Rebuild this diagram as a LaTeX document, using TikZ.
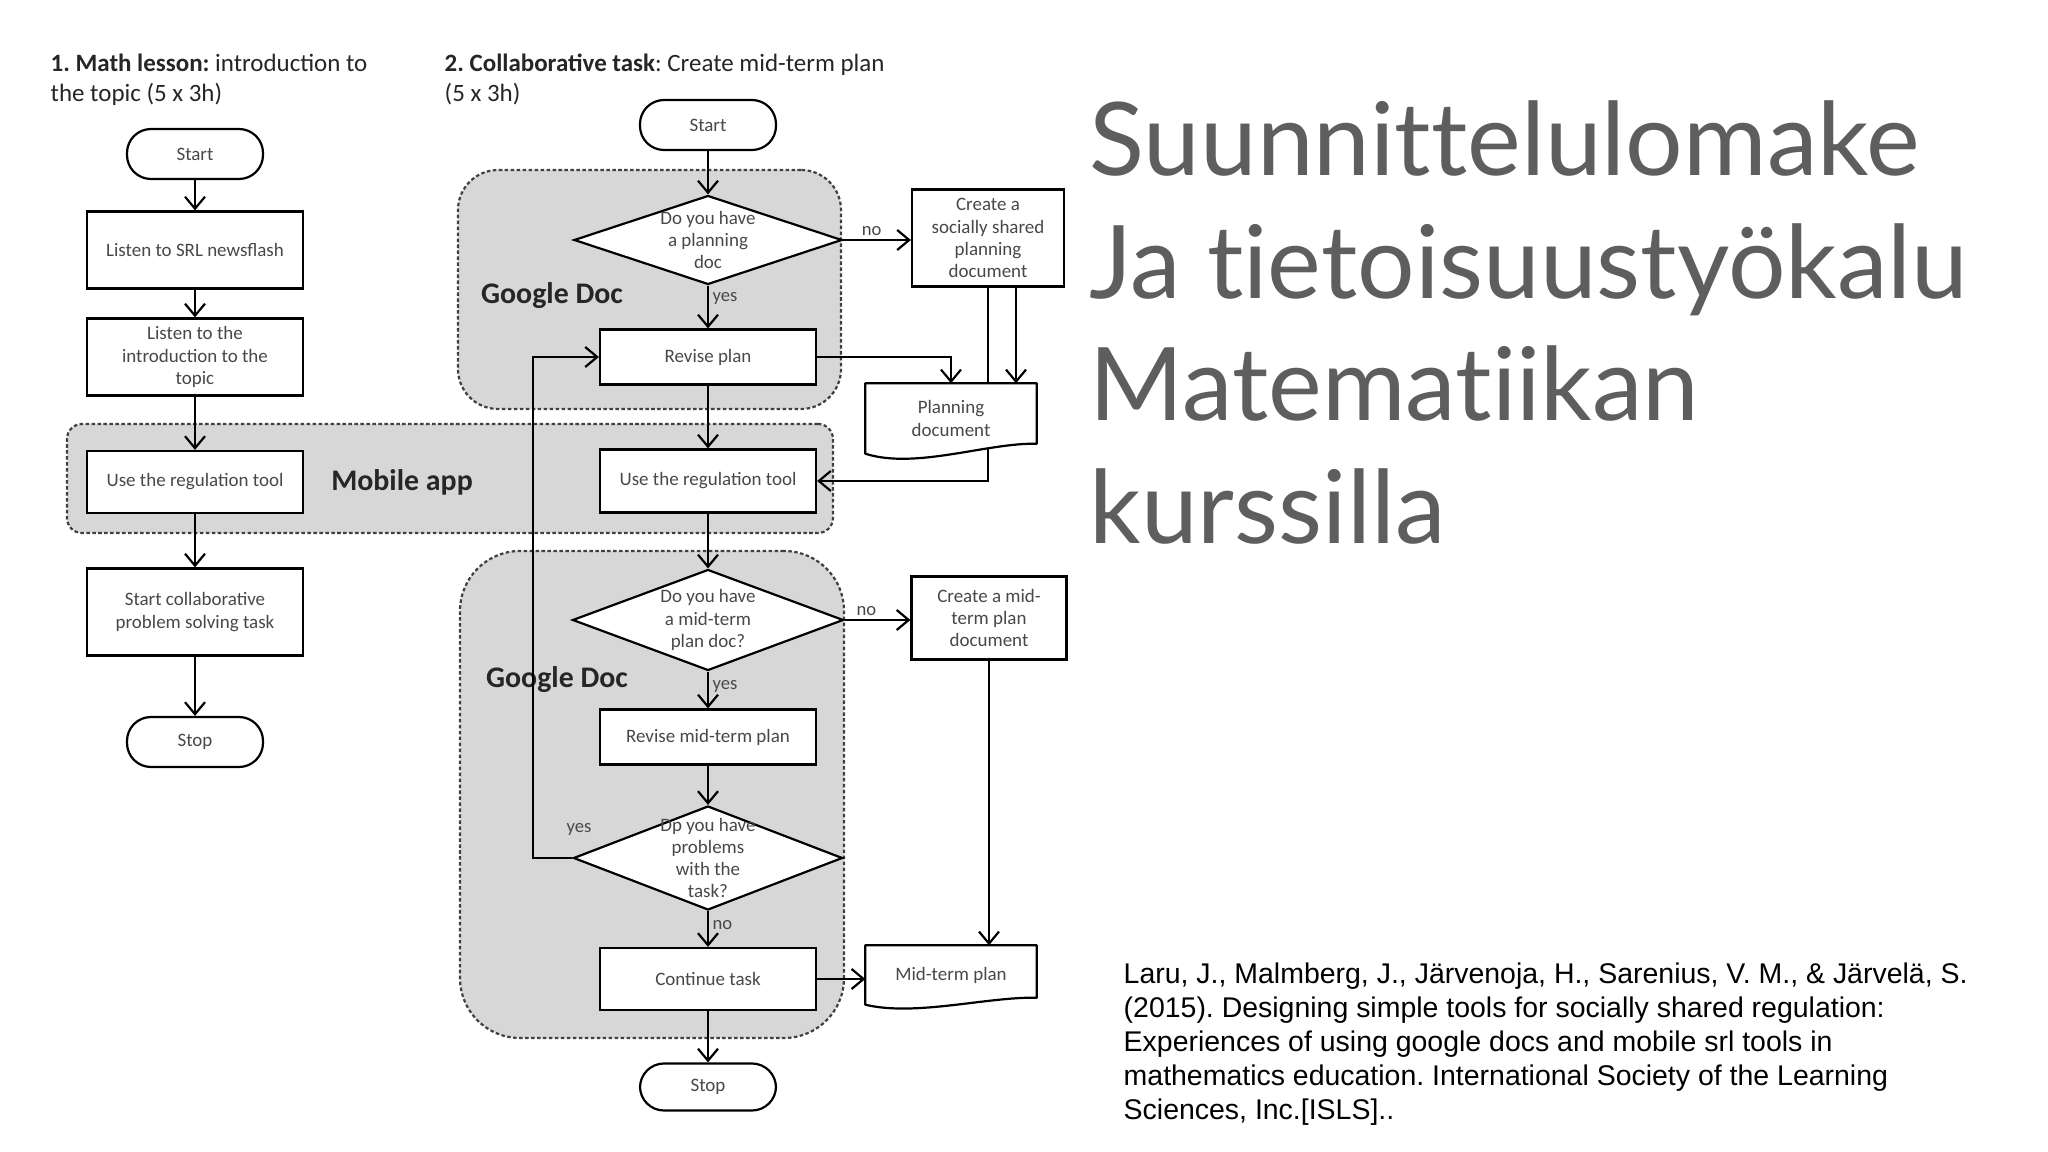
\documentclass[tikz,border=0pt]{standalone}
\usepackage{fontspec}
\setmainfont{Carlito}
\newfontfamily\headfont[Ligatures=NoCommon]{Lato}
\newfontfamily\citefont{Liberation Sans}
\usetikzlibrary{shapes.geometric,arrows.meta,calc}
\definecolor{bandgray}{RGB}{215,215,215}
\definecolor{headgray}{RGB}{94,94,94}
\definecolor{boxtext}{RGB}{72,72,72}
\frenchspacing

\begin{document}
\begin{tikzpicture}
  \tikzstyle{band} = [rectangle, draw=black!75, fill=bandgray, dash pattern=on 1pt off 0.7pt, line width=0.22mm]
  \tikzstyle{block} = [rectangle, draw, fill=white, line width=0.22mm, minimum width=21.6mm, text=boxtext, font=\fontsize{5.4}{6.3}\selectfont, align=center, inner sep=1pt]
  \tikzstyle{terminal} = [rectangle, rounded corners=2.4mm, draw, fill=white, line width=0.22mm, minimum width=13.6mm, minimum height=5mm, text=boxtext, font=\fontsize{5.4}{6.3}\selectfont]
  \tikzstyle{decision} = [diamond, draw, fill=white, line width=0.22mm, inner sep=0pt]
  \tikzstyle{qtext} = [text=boxtext, font=\fontsize{5.4}{6.3}\selectfont, align=center, inner sep=0pt]
  \tikzstyle{doc} = [rectangle, minimum width=17mm, text=boxtext, font=\fontsize{5.4}{6.3}\selectfont, align=center]
  \tikzstyle{docline} = [line width=0.22mm, line join=round]
  \tikzstyle{tag} = [text=boxtext, font=\fontsize{5.3}{6}\selectfont, inner sep=1pt]
  \tikzstyle{area} = [font=\bfseries\fontsize{8.5}{10}\selectfont, text=black!85]
  \tikzstyle{heading} = [font=\fontsize{7.1}{8.5}\selectfont, text=black!85, align=left, inner sep=0pt, anchor=north west]
  \tikzstyle{arrow} = [-{Straight Barb[length=1.2mm, width=2mm]}, line width=0.22mm]
  \tikzstyle{line} = [-, line width=0.22mm]

  \path[fill=white, use as bounding box] (0,0) rectangle (20.48,-11.52);

  % grey areas
  \node[band, rounded corners=4mm, minimum width=38.3mm, minimum height=23.9mm] at (6.495,-2.895) (gdocA) {};
  \node[band, rounded corners=1.5mm, minimum width=76.6mm, minimum height=10.9mm] at (4.50,-4.785) (mobile) {};
  \node[band, rounded corners=6mm, minimum width=38.4mm, minimum height=48.7mm] at (6.52,-7.945) (gdocB) {};
  \node[area] at (5.52,-2.96) (gdocAlabel) {Google Doc};
  \node[area] at (4.02,-4.82) (mobilelabel) {Mobile app};
  \node[area] at (5.57,-6.80) (gdocBlabel) {Google Doc};

  \node[heading] at (0.50,-0.53) (title1) {\textbf{1. Math lesson:} introduction to\\the topic (5 x 3h)};
  \node[heading] at (4.44,-0.53) (title2) {\textbf{2. Collaborative task}: Create mid-term plan\\(5 x 3h)};

  % math lesson
  \node[terminal] at (1.95,-1.54) (lstart) {Start};
  \node[block, minimum height=7.7mm] at (1.95,-2.50) (srl) {Listen to SRL newsflash};
  \node[block, minimum height=7.7mm] at (1.95,-3.57) (intro) {Listen to\ the\\introduction to the\\topic};
  \node[block, minimum height=6.2mm] at (1.95,-4.82) (lreg) {Use the regulation tool};
  \node[block, minimum height=8.7mm] at (1.95,-6.12) (collab) {Start collaborative\\problem solving task};
  \node[terminal] at (1.95,-7.42) (lstop) {Stop};

  % collaborative task
  \node[terminal] at (7.08,-1.25) (rstart) {Start};
  \node[decision, minimum width=26.8mm, minimum height=8.9mm] at (7.08,-2.40) (q1) {};
  \node[qtext] at (q1) (q1text) {Do you have\\a planning\\doc};
  \node[block, minimum width=15.2mm, minimum height=9.7mm] at (9.88,-2.38) (create1) {Create a\\socially shared\\planning\\document};
  \node[block, minimum height=5.5mm] at (7.08,-3.57) (revise) {Revise plan};
  \node[doc, minimum height=6.9mm] at (9.51,-4.185) (plandoc) {Planning\\document};
  \node[block, minimum height=6.3mm] at (7.08,-4.81) (rreg) {Use the regulation tool};
  \node[decision, minimum width=27.1mm, minimum height=10.1mm] at (7.08,-6.20) (q2) {};
  \node[qtext] at (q2) (q2text) {Do you have\\a mid-term\\plan doc?};
  \node[block, minimum width=15.5mm, minimum height=8.3mm] at (9.89,-6.18) (create2) {Create a mid-\\term plan\\document};
  \node[block, minimum height=5.5mm] at (7.08,-7.37) (revmid) {Revise mid-term plan};
  \node[decision, minimum width=26.9mm, minimum height=10.4mm] at (7.08,-8.58) (q3) {};
  \node[qtext] at (q3) (q3text) {Dp you have\\problems\\with the\\task?};
  \node[block, minimum height=6.2mm] at (7.08,-9.79) (contin) {Continue task};
  \node[doc, minimum height=5.8mm] at (9.51,-9.75) (middoc) {Mid-term plan};
  \node[terminal, minimum height=4.7mm] at (7.08,-10.87) (rstop) {Stop};

  % document outlines
  \draw[docline] (plandoc.north west) -- (plandoc.north east) -- ([yshift=1mm]plandoc.south east) .. controls ([xshift=-5mm,yshift=1.1mm]plandoc.south east) and ([xshift=5mm,yshift=-1.6mm]plandoc.south west) .. (plandoc.south west) -- cycle;
  \draw[docline] (middoc.north west) -- (middoc.north east) -- ([yshift=0.7mm]middoc.south east) .. controls ([xshift=-5mm,yshift=0.8mm]middoc.south east) and ([xshift=5mm,yshift=-1.2mm]middoc.south west) .. (middoc.south west) -- cycle;

  \draw[arrow] (lstart) -- (srl);
  \draw[arrow] (srl) -- (intro);
  \draw[arrow] (intro) -- (lreg);
  \draw[arrow] (lreg) -- (collab);
  \draw[arrow] (collab) -- (lstop);

  \draw[arrow] (rstart) -- (q1);
  \draw[arrow] (q1.east) -- node[tag, above, pos=0.42] (no1) {no} (create1.west |- q1.east);
  \draw[arrow] (q1) -- node[tag, right, pos=0.3] (yes1) {yes} (revise);
  \draw[arrow] (revise.east) -| (plandoc.north);
  \draw[line] (create1.south) -- (create1.south |- plandoc.north);
  \coordinate (c1right) at ($(create1.south)+(0.28,0)$);
  \draw[arrow] (c1right) -- (c1right |- plandoc.north);
  \coordinate (pdout) at ($(create1.south |- plandoc.south)+(0,0.06)$);
  \draw[arrow] (pdout) |- (rreg.east);
  \draw[arrow] (revise) -- (rreg);
  \draw[arrow] (rreg) -- (q2);
  \draw[arrow] (q2.east) -- node[tag, above, pos=0.33] (no2) {no} (create2.west |- q2.east);
  \draw[arrow] (q2) -- node[tag, right, pos=0.4] (yes2) {yes} (revmid);
  \draw[arrow] (create2.south) -- (create2.south |- middoc.north);
  \draw[arrow] (revmid) -- (q3);
  \coordinate (loop) at (5.33,-8.58);
  \draw[arrow] (q3.west) -- (loop) |- (revise.west);
  \node[tag] at (5.79,-8.29) (yes3) {yes};
  \draw[arrow] (q3) -- node[tag, right, pos=0.4] (no3) {no} (contin);
  \draw[arrow] (contin.east) -- (contin.east -| middoc.west);
  \draw[arrow] (contin) -- (rstop);

  % title and reference
  \node[anchor=north west, font=\headfont\fontsize{28.9}{34.9}\selectfont, text=headgray, align=left, inner sep=0pt] at (10.89,-1.00) (heading) {Suunnittelulomake\\Ja tietoisuustyökalu\\Matematiikan\\kurssilla};
  \node[anchor=north west, font=\citefont\fontsize{8.1}{9.7}\selectfont, align=left, inner sep=0pt] at (11.23,-9.62) (ref) {Laru, J., Malmberg, J., Järvenoja, H., Sarenius, V. M., \& Järvelä, S.\\(2015). Designing simple tools for socially shared regulation:\\Experiences of using google docs and mobile srl tools in\\mathematics education. International Society of the Learning\\Sciences, Inc.[ISLS]..};
\end{tikzpicture}
\end{document}
